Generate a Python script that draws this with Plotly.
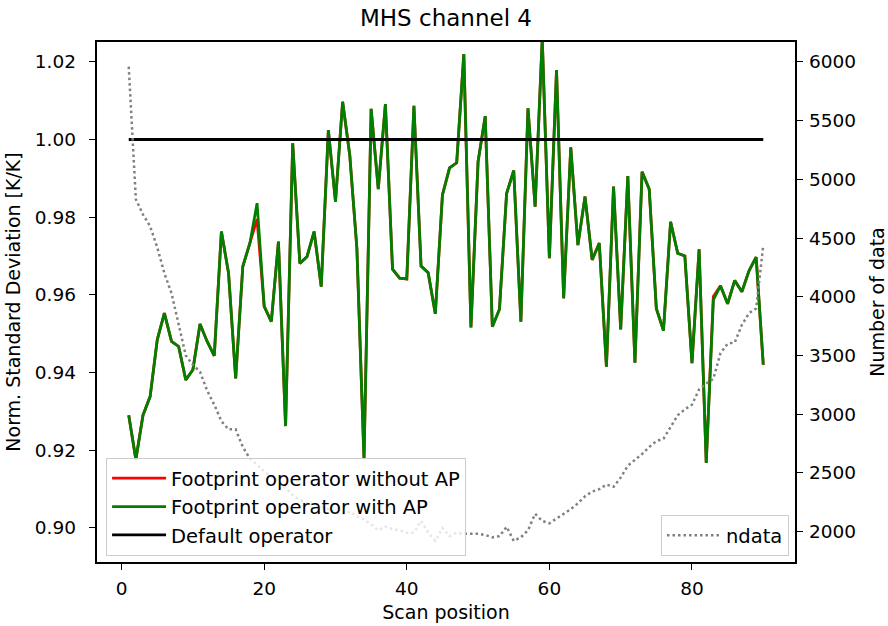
import plotly.graph_objects as go

scan_pos = list(range(1, 91))

with_ap = [
    0.929, 0.9176, 0.929, 0.9338, 0.9484, 0.9553, 0.948, 0.9467, 0.9381, 0.9407,
    0.9525, 0.948, 0.9443, 0.9763, 0.9656, 0.9385, 0.9673, 0.9733, 0.9836, 0.957,
    0.9531, 0.9737, 0.9262, 0.999, 0.9681, 0.9698, 0.9763, 0.9621, 1.0024, 0.984,
    1.0097, 0.996, 0.972, 0.9177, 1.0079, 0.9872, 1.0091, 0.9666, 0.9643, 0.9641,
    1.0087, 0.9674, 0.9657, 0.9551, 0.9857, 0.9927, 0.994, 1.022, 0.9516, 0.9943,
    1.006, 0.9518, 0.9563, 0.9861, 0.992, 0.9531, 1.008, 0.9827, 1.026, 0.9694,
    1.0179, 0.9591, 0.998, 0.9728, 0.9853, 0.969, 0.9733, 0.9415, 0.9879, 0.9511,
    0.9906, 0.9425, 0.9917, 0.9872, 0.9565, 0.9508, 0.9788, 0.9707, 0.97, 0.9424,
    0.9717, 0.9167, 0.9587, 0.9623, 0.9577, 0.9637, 0.9608, 0.9662, 0.9697, 0.942,
]

without_ap = [
    0.929, 0.9176, 0.929, 0.9338, 0.9484, 0.9553, 0.948, 0.9467, 0.9381, 0.9407,
    0.9525, 0.948, 0.9443, 0.9763, 0.9656, 0.9385, 0.9673, 0.9733, 0.9795, 0.957,
    0.9531, 0.9737, 0.9262, 0.999, 0.9681, 0.9698, 0.9763, 0.9621, 1.0024, 0.984,
    1.0097, 0.996, 0.972, 0.9177, 1.0079, 0.9872, 1.0091, 0.9666, 0.9643, 0.9641,
    1.0087, 0.9674, 0.9657, 0.9551, 0.9857, 0.9927, 0.994, 1.022, 0.9516, 0.9943,
    1.006, 0.9518, 0.9563, 0.9861, 0.992, 0.9531, 1.008, 0.9827, 1.026, 0.9694,
    1.0179, 0.9591, 0.998, 0.9728, 0.9853, 0.969, 0.9733, 0.9415, 0.9879, 0.9511,
    0.9906, 0.9425, 0.9917, 0.9872, 0.9565, 0.9508, 0.9788, 0.9707, 0.97, 0.9424,
    0.9717, 0.9167, 0.9596, 0.9623, 0.9577, 0.9637, 0.9608, 0.9662, 0.9697, 0.942,
]

default_op = [1.0] * 90

ndata = [
    5960, 4830, 4700, 4600, 4420, 4200, 4030, 3750, 3500, 3420,
    3360, 3200, 3080, 2940, 2870, 2870, 2720, 2620, 2570, 2510,
    2470, 2420, 2370, 2310, 2270, 2240, 2230, 2210, 2190, 2160,
    2150, 2170, 2130, 2100, 2060, 2010, 2040, 2020, 2010, 1990,
    1990, 2090, 1990, 1920, 2030, 1960, 1990, 1980, 1980, 1980,
    1970, 1950, 1960, 2040, 1920, 1950, 2010, 2150, 2090, 2070,
    2110, 2150, 2190, 2240, 2300, 2340, 2360, 2400, 2380, 2460,
    2560, 2610, 2660, 2720, 2770, 2790, 2890, 2990, 3040, 3080,
    3210, 3260, 3300, 3520, 3600, 3610, 3760, 3860, 3900, 4440,
]

x_ticks = [0, 20, 40, 60, 80]
y_ticks = [0.90, 0.92, 0.94, 0.96, 0.98, 1.00, 1.02]
y2_ticks = [2000, 2500, 3000, 3500, 4000, 4500, 5000, 5500, 6000]

FONT = "DejaVu Sans"
FS = 18.5
LFS = 19.5

fig = go.Figure()
fig.add_trace(go.Scatter(x=scan_pos, y=without_ap, mode="lines", name="Footprint operator without AP",
                         line=dict(color="red", width=2.8), legend="legend"))
fig.add_trace(go.Scatter(x=scan_pos, y=with_ap, mode="lines", name="Footprint operator with AP",
                         line=dict(color="green", width=2.8), legend="legend"))
fig.add_trace(go.Scatter(x=scan_pos, y=default_op, mode="lines", name="Default operator",
                         line=dict(color="black", width=2.8), legend="legend"))
fig.add_trace(go.Scatter(x=scan_pos, y=ndata, mode="lines", name="ndata", yaxis="y2",
                         line=dict(color="gray", width=2.5, dash="2.5px,3px"), legend="legend2"))

axis_common = dict(showgrid=False, zeroline=False, showline=True, linecolor="black", linewidth=1.5,
                   ticks="outside", ticklen=6.5, tickwidth=1.2, tickcolor="black",
                   automargin=False, tickfont=dict(size=FS))

fig.update_layout(
    width=888, height=626,
    margin=dict(l=97, r=93, t=42, b=64, autoexpand=False),
    paper_bgcolor="white", plot_bgcolor="white",
    font=dict(family=FONT, size=FS, color="black"),
    title=dict(text="MHS channel 4", x=0.5, xref="paper", xanchor="center",
               y=1 - 18 / 626, yref="container", yanchor="middle",
               font=dict(size=23, family=FONT, color="black")),
    xaxis=dict(range=[-3.45, 94.45], tickvals=x_ticks, mirror=True,
               ticklabelstandoff=3,
               title=dict(text="Scan position", standoff=7, font=dict(size=19)),
               **axis_common),
    yaxis=dict(range=[0.8912, 1.0251], tickvals=y_ticks, tickformat=".2f",
               ticklabelstandoff=9,
               title=dict(text="Norm. Standard Deviation [K/K]", standoff=9, font=dict(size=19)),
               **axis_common),
    yaxis2=dict(range=[1740, 6170], tickvals=y2_ticks, overlaying="y", side="right",
                ticklabelstandoff=2,
                title=dict(text="Number of data", standoff=18, font=dict(size=19)),
                **axis_common),
    legend=dict(x=0.013, y=0.0115, xanchor="left", yanchor="bottom",
                bgcolor="rgba(255,255,255,0.8)", bordercolor="#cccccc", borderwidth=1,
                font=dict(size=LFS, family=FONT), tracegroupgap=0, itemwidth=54),
    legend2=dict(x=0.9914, y=0.0115, xanchor="right", yanchor="bottom",
                 bgcolor="rgba(255,255,255,0.8)", bordercolor="#cccccc", borderwidth=1,
                 font=dict(size=LFS, family=FONT), itemwidth=54),
)

fig.write_html("out.html", config={"displayModeBar": False},
               post_script="document.body.style.margin='0px';document.body.style.overflow='hidden';")
